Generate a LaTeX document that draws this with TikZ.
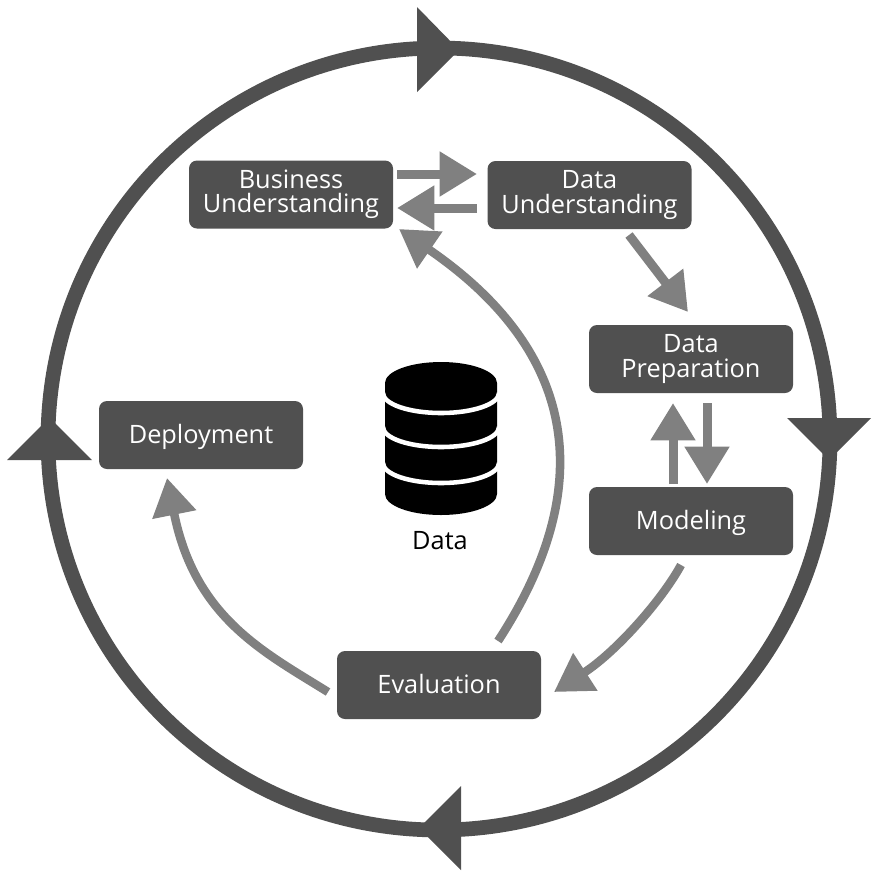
\documentclass[tikz,border=0pt]{standalone}
\usepackage{fontspec}
\setmainfont{Open Sans}
\usetikzlibrary{arrows.meta}
\definecolor{boxc}{HTML}{505050}
\definecolor{arrc}{HTML}{808080}
\tikzset{
  px/.style={x=0.75pt,y=-0.75pt},
  stage/.style={fill=boxc,rounded corners=6pt,minimum width=153pt,minimum height=51pt,text=white,font=\fontsize{19}{18.7}\selectfont,align=center,inner sep=0pt,
    execute at begin node={\rule{0pt}{18pt}},execute at end node={\rule[-5pt]{0pt}{5pt}}},
  twoline/.style={stage,execute at begin node={\rule{0pt}{21.5pt}}},
  flowarrow/.style={draw=arrc,line width=6.4pt,-{Triangle[length=28pt,width=32pt]}},
  smallarrow/.style={draw=arrc,line width=6.75pt,-{Triangle[length=28pt,width=32pt]}},
  ringhead/.style={fill=boxc,draw=none},
}
\begin{document}
\begin{tikzpicture}[px]
\useasboundingbox (0,0) rectangle (880,879);
\fill[white] (0,0) rectangle (880,879);
% ring
\coordinate (c) at (439,439);
\draw[boxc,line width=11pt] (c) circle (391);
\fill[ringhead] (417,7) -- (459,50) -- (417,92) -- cycle;
\fill[ringhead] (787,418) -- (871,418) -- (829,460) -- cycle;
\fill[ringhead] (461,786) -- (461,870) -- (419,828) -- cycle;
\fill[ringhead] (92,460) -- (7,460) -- (49.5,417.5) -- cycle;
% stages
\node[twoline] (bu) at (291,194.5) {Business\\Understanding};
\node[twoline] (du) at (589.5,195) {Data\\Understanding};
\node[twoline] (dp) at (691,359) {Data\\Preparation};
\node[stage] (mo) at (691,521) {Modeling};
\node[stage] (ev) at (439,685) {Evaluation};
\node[stage] (de) at (201,435) {Deployment};
% connectors
\coordinate (a1s) at (397,174);\coordinate (a1e) at (477,174);
\coordinate (a2s) at (477,208);\coordinate (a2e) at (397,208);
\coordinate (a3s) at (629,235);\coordinate (a3e) at (688,312);
\coordinate (a4s) at (707,403);\coordinate (a4e) at (707,484);
\coordinate (a5s) at (673,484);\coordinate (a5e) at (673,403);
\draw[smallarrow] (a1s) -- (a1e);
\draw[smallarrow] (a2s) -- (a2e);
\draw[smallarrow] (a3s) -- (a3e);
\draw[smallarrow] (a4s) -- (a4e);
\draw[smallarrow] (a5s) -- (a5e);
\coordinate (a6s) at (681,565);\coordinate (a6e) at (554,692);
\coordinate (a7s) at (498,641);\coordinate (a7e) at (399,229);
\coordinate (a8s) at (328,692);\coordinate (a8e) at (167,478);
\draw[flowarrow] (a6s) .. controls (662,600) and (616,652) .. (a6e);
\draw[flowarrow] (a7s) .. controls (590,500) and (590,360) .. (a7e);
\draw[flowarrow] (a8s) .. controls (264,652) and (195,618) .. (a8e);
% database
\fill[black] (385,383) -- (385,494) arc[start angle=180,end angle=0,x radius=56,y radius=21] -- (497,383) arc[start angle=0,end angle=-180,x radius=56,y radius=21] -- cycle;
\draw[white,line width=3.4pt] (383,393) arc[start angle=180,end angle=0,x radius=58,y radius=20];
\draw[white,line width=3.4pt] (383,427) arc[start angle=180,end angle=0,x radius=58,y radius=20];
\draw[white,line width=3.4pt] (383,463) arc[start angle=180,end angle=0,x radius=58,y radius=20];
\node[font=\fontsize{19}{20}\selectfont,text=black,inner sep=0pt] (dl) at (440,541) {Data};
\end{tikzpicture}
\end{document}
